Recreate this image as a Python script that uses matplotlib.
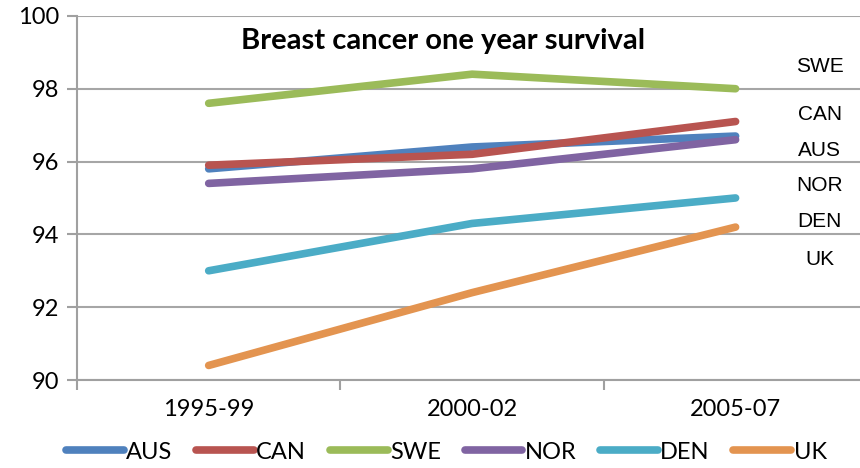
import matplotlib.pyplot as plt
import numpy as np

periods = ["1995-99", "2000-02", "2005-07"]
countries = ["AUS", "CAN", "SWE", "NOR", "DEN", "UK"]
aus = [95.8, 96.4, 96.7]
can = [95.9, 96.2, 97.1]
swe = [97.6, 98.4, 98.0]
nor = [95.4, 95.8, 96.6]
den = [93.0, 94.3, 95.0]
uk = [90.4, 92.4, 94.2]
colors = ["#4f81bd", "#b85450", "#9bbb59", "#8064a2", "#4bacc6", "#e39450"]

# right-hand labels, in top-to-bottom order with their y positions
side_labels = ["SWE", "CAN", "AUS", "NOR", "DEN", "UK"]
side_label_y = [98.6, 97.3, 96.3, 95.35, 94.35, 93.3]

plt.rcParams["font.family"] = ["Lato", "DejaVu Sans"]

fig = plt.figure(figsize=(8.6, 4.68), dpi=100)
ax = fig.add_axes([0.0895, 0.188, 0.919, 0.778])

x = np.arange(len(periods))
series = [aus, can, swe, nor, den, uk]
for name, vals, c in zip(countries, series, colors):
    ax.plot(x, vals, color=c, lw=5.5, solid_capstyle="round",
            solid_joinstyle="round", label=name)

ax.set_xlim(-0.5, 2.5)
ax.set_ylim(90, 100)
ax.set_yticks(np.arange(90, 101, 2))
ax.set_xticks(x)
ax.set_xticklabels(periods)
ax.set_xticks([-0.5, 0.5, 1.5, 2.5], minor=True)
ax.tick_params(axis="x", which="major", length=0, pad=14, labelsize=17)
ax.tick_params(axis="x", which="minor", length=7, color="#a0a0a0", width=1.5)
ax.tick_params(axis="y", length=7, color="#a0a0a0", width=1.5, labelsize=17, pad=6)
ax.grid(axis="y", color="#a6a6a6", lw=1.5)
ax.set_axisbelow(True)
for s in ["top", "right"]:
    ax.spines[s].set_visible(False)
for s in ["left", "bottom"]:
    ax.spines[s].set_color("#a0a0a0")
    ax.spines[s].set_linewidth(1.5)

ax.text(0.463, 0.93, "Breast cancer one year survival", transform=ax.transAxes,
        ha="center", va="center", fontsize=21, fontweight="bold")

for lab, ly in zip(side_labels, side_label_y):
    ax.text(2.32, ly, lab, ha="center", va="center", fontsize=15,
            family=["Liberation Sans"])

fig.legend(loc="center", bbox_to_anchor=(0.519, 0.034), ncol=6,
           frameon=False, fontsize=17, handlelength=2.45, handletextpad=0.1,
           columnspacing=1.0, borderaxespad=0)

fig.savefig("out.png", dpi=100)
